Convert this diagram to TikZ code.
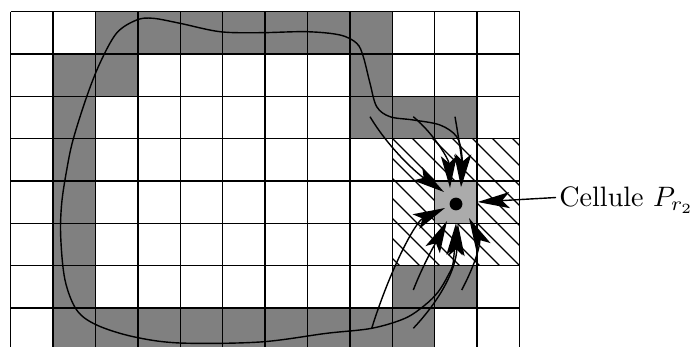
\documentclass[tikz,border=0pt]{standalone}
\usetikzlibrary{arrows.meta}
\begin{document}
\begin{tikzpicture}[x=0.012509cm, y=-0.012509cm,
  gridline/.style={line width=0.55pt},
  traj/.style={line width=0.5pt},
  arr/.style={traj, -{Stealth[length=4mm, width=2mm, inset=0.9mm]}},
  hatch/.style={line width=0.4pt},
  wall/.style={fill=gray},
  target/.style={fill=black!33}]
\useasboundingbox (0,0) rectangle (694,347);
\clip (0,0) rectangle (694,347);
\def\cw{42.4}\def\ch{42.33}
% wall cells
\foreach \c/\r in {2/0,3/0,4/0,5/0,6/0,7/0,8/0,
                   1/1,2/1,8/1,
                   1/2,8/2,9/2,10/2,
                   1/3,1/4,1/5,
                   1/6,9/6,10/6,
                   1/7,2/7,3/7,4/7,5/7,6/7,7/7,8/7,9/7}
  \fill[wall] ({10.7+\cw*\c},{11.7+\ch*\r}) rectangle ++(\cw,\ch);
% hatched zone
\begin{scope}
  \clip (392.7,138.7) rectangle (519.5,265.7);
  \foreach \n in {-7,...,7}
    \draw[hatch] ({254+20*\n+100},100) -- ({254+20*\n+300},300);
\end{scope}
% target cell
\fill[target] (434.7,181.0) rectangle (477.1,223.3);
% grid
\foreach \i in {0,...,12}
  \draw[gridline] ({10.7+\cw*\i},11.7) -- ({10.7+\cw*\i},350.3);
\foreach \j in {0,...,8}
  \draw[gridline] (10.7,{11.7+\ch*\j}) -- (519.5,{11.7+\ch*\j});
% big trajectory
\draw[traj, {Stealth[length=4mm, width=2mm, inset=0.9mm]}-{Stealth[length=4mm, width=2mm, inset=0.9mm]}]
  plot[smooth, tension=0.55] coordinates {
  (456,223) (453.3,261.7) (448.3,275) (438.3,291.7) (425,305) (405,318.3)
  (371.7,328.3) (326.7,333.3) (260,342) (180,343) (133.3,336.7) (96.7,325)
  (76.7,310) (65,280) (60.7,236.7) (61.7,203.3) (66.7,170) (73,140)
  (86.7,96.7) (100,63) (116.7,33) (136.7,20) (153,18.3) (180,23.3)
  (220,31.7) (260,32.7) (306.7,31.7) (340,35) (356.7,43.3) (363.3,56.7)
  (370,83.3) (376.7,106.7) (390,116.7) (413.3,120) (440,125) (456.7,136.7)
  (462,156.7) (461.5,186)};
% other trajectories
\coordinate (sa) at (370,116.7);
\coordinate (sb) at (413.3,116.7);
\coordinate (sc) at (455,116.7);
\coordinate (sd) at (371.7,328.3);
\coordinate (se) at (413.3,290);
\coordinate (sf) at (413.3,328.3);
\coordinate (sg) at (461.7,290);
\draw[arr] (sa) .. controls (390,150) and (418,174) .. (444,192);
\draw[arr] (sb) .. controls (435,135) and (449,160) .. (450,188);
\draw[arr] (sc) .. controls (459,140) and (462,160) .. (461,187);
\draw[arr] (sd) .. controls (390,270) and (415,222) .. (445,208);
\draw[arr] (se) .. controls (425,260) and (440,235) .. (447,221);
\draw[arr] (sf) .. controls (440,300) and (456,270) .. (458,224);
\draw[arr] (sg) .. controls (480,255) and (480,240) .. (469,218);
% centre point
\node[circle, fill, inner sep=0pt, minimum size=0.16cm] (dot) at (456,204) {};
% label
\node[anchor=base west, inner sep=1pt] (lab) at (556,206.7) {Cellule $P_{r_2}$};
\coordinate (tipR) at (477.5,202);
\draw[arr] ([yshift=1pt]lab.west) -- (tipR);
\end{tikzpicture}
\end{document}
